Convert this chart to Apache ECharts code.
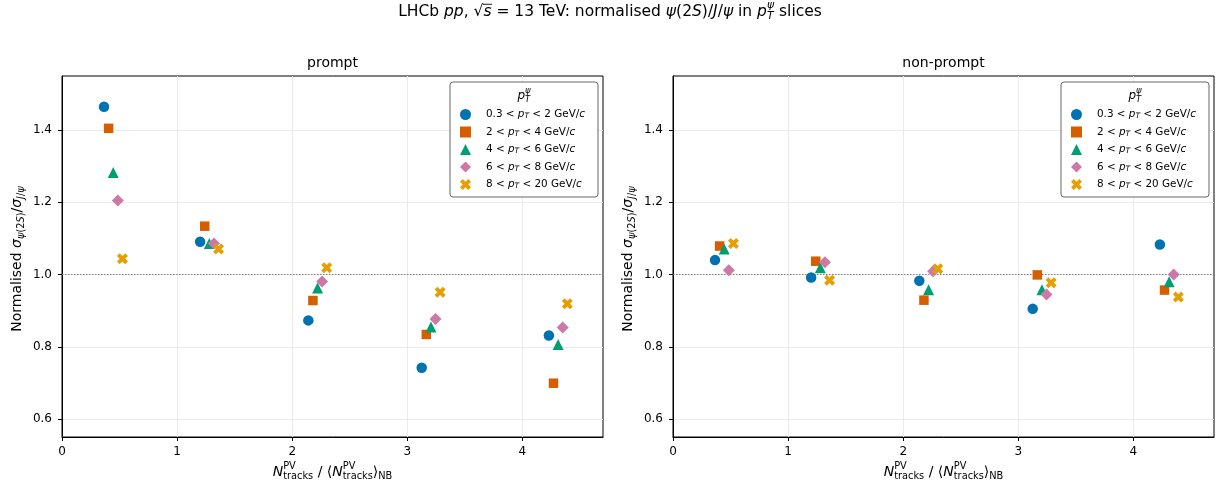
<!DOCTYPE html>
<html>
<head>
<meta charset="utf-8">
<script src="https://cdn.jsdelivr.net/npm/echarts@6/dist/echarts.min.js"></script>
<style>
  html, body { margin: 0; padding: 0; background: #fff; }
  #chart { width: 1221px; height: 489px; }
</style>
</head>
<body>
<div id="chart"></div>
<script>
// pT slice bounds (GeV/c), one per series
const sliceLow = [0.3, 2, 4, 6, 8];
const sliceHigh = [2, 4, 6, 8, 20];

// Multiplicity bin centres, N_tracks^PV / <N_tracks^PV>_NB
const multBins = [0.445, 1.28, 2.22, 3.205, 4.31];

// Normalised psi(2S)/J/psi ratio, prompt
const prompt1 = [1.465, 1.091, 0.873, 0.742, 0.831];
const prompt2 = [1.405, 1.134, 0.928, 0.834, 0.699];
const prompt3 = [1.283, 1.086, 0.963, 0.855, 0.806];
const prompt4 = [1.205, 1.086, 0.981, 0.877, 0.853];
const prompt5 = [1.044, 1.071, 1.019, 0.951, 0.919];

// Normalised psi(2S)/J/psi ratio, non-prompt
const nonPrompt1 = [1.040, 0.992, 0.983, 0.905, 1.083];
const nonPrompt2 = [1.079, 1.037, 0.929, 0.999, 0.957];
const nonPrompt3 = [1.071, 1.019, 0.958, 0.958, 0.980];
const nonPrompt4 = [1.012, 1.034, 1.009, 0.945, 1.000];
const nonPrompt5 = [1.086, 0.984, 1.016, 0.977, 0.938];

// Axis ticks
const xTicks = [0, 1, 2, 3, 4];
const yTicks = [0.6, 0.8, 1.0, 1.2, 1.4];

const panels = [
  { title: 'prompt', sets: [prompt1, prompt2, prompt3, prompt4, prompt5] },
  { title: 'non-prompt', sets: [nonPrompt1, nonPrompt2, nonPrompt3, nonPrompt4, nonPrompt5] }
];

const colors = ['#0072B2', '#D55E00', '#009E73', '#CC79A7', '#E69F00'];
const xCross = 'path://M2,-4L4,-2L2,0L4,2L2,4L0,2L-2,4L-4,2L-2,0L-4,-2L-2,-4L0,-2Z';
const symbols = ['circle', 'rect', 'triangle', 'diamond', xCross];
const symbolSizes = [10.5, 9.5, 11, 12, 11];
const dodge = 0.04;
const FONT = '"DejaVu Sans"';

const sliceNames = sliceLow.map((lo, i) => lo + ' < pT < ' + sliceHigh[i] + ' GeV/c');

const grids = [
  { left: 62, top: 76, width: 541, height: 361 },
  { left: 673, top: 76, width: 541, height: 361 }
];

// ---- small mathtext-like label builder ----
const mctx = document.createElement('canvas').getContext('2d');
function fontOf(size, italic) {
  return (italic ? 'italic ' : '') + size + 'px ' + FONT;
}
function mathText(items, base, opts) {
  let x = 0, lastStart = 0;
  const children = [];
  items.forEach(it => {
    const size = base * (it.s || 1);
    const f = fontOf(size, it.it);
    mctx.font = f;
    const w = mctx.measureText(it.t).width;
    const start = it.back ? lastStart : x;
    children.push({
      type: 'text', x: start, y: (it.dy || 0) * base, z: 100, zlevel: 1,
      style: { text: it.t, font: f, fill: '#000',
               textAlign: 'left', textVerticalAlign: 'middle',
               align: 'left', verticalAlign: 'middle' }
    });
    if (it.over) {
      children.push({
        type: 'line', z: 100, zlevel: 1,
        shape: { x1: start - 0.5, y1: -0.5 * base, x2: start + w + 0.5, y2: -0.5 * base },
        style: { stroke: '#000', lineWidth: 0.9 }
      });
    }
    lastStart = start;
    x = Math.max(x, start + w);
  });
  const shift = opts.align === 'center' ? -x / 2 : 0;
  children.forEach(c => {
    if (c.type === 'text') c.x += shift;
    else { c.shape.x1 += shift; c.shape.x2 += shift; }
  });
  return { type: 'group', x: opts.x, y: opts.y, rotation: opts.rotation || 0,
           silent: true, z: 100, zlevel: 1, children };
}

const SUB = 0.3, SUP = -0.42, SS = 0.7;

const titleItems = [
  { t: 'LHCb ' }, { t: 'pp', it: true }, { t: ', ' }, { t: '√' }, { t: 's', it: true, over: true },
  { t: ' = 13 TeV: normalised ' }, { t: 'ψ', it: true }, { t: '(2' }, { t: 'S', it: true },
  { t: ')/' }, { t: 'J', it: true }, { t: '/' }, { t: 'ψ', it: true }, { t: ' in ' },
  { t: 'p', it: true }, { t: 'ψ', it: true, s: SS, dy: SUP }, { t: 'T', it: true, s: SS, dy: SUB, back: true },
  { t: ' slices' }
];
const yLabelItems = [
  { t: 'Normalised ' }, { t: 'σ', it: true },
  { t: 'ψ', it: true, s: SS, dy: SUB }, { t: '(2', s: SS, dy: SUB }, { t: 'S', it: true, s: SS, dy: SUB }, { t: ')', s: SS, dy: SUB },
  { t: '/' }, { t: 'σ', it: true },
  { t: 'J', it: true, s: SS, dy: SUB }, { t: '/', s: SS, dy: SUB }, { t: 'ψ', it: true, s: SS, dy: SUB }
];
const xLabelItems = [
  { t: 'N', it: true }, { t: 'PV', s: SS, dy: SUP }, { t: 'tracks', s: SS, dy: SUB, back: true },
  { t: ' / ⟨' }, { t: 'N', it: true }, { t: 'PV', s: SS, dy: SUP }, { t: 'tracks', s: SS, dy: SUB, back: true },
  { t: '⟩' }, { t: 'NB', s: SS, dy: SUB }
];
const legendTitleItems = [
  { t: 'p', it: true }, { t: 'ψ', it: true, s: SS, dy: SUP }, { t: 'T', it: true, s: SS, dy: SUB, back: true }
];

const graphics = [mathText(titleItems, 15.5, { x: 610, y: 12, align: 'center' })];
grids.forEach((g, k) => {
  const cx = g.left + g.width / 2;
  graphics.push({
    type: 'text', x: cx, y: 63, silent: true,
    style: { text: panels[k].title, font: fontOf(14, false), fill: '#000',
             textAlign: 'center', textVerticalAlign: 'middle', align: 'center', verticalAlign: 'middle' }
  });
  graphics.push(mathText(xLabelItems, 14, { x: cx, y: 472, align: 'center' }));
  graphics.push(mathText(yLabelItems, 14, { x: g.left - 45, y: 259, align: 'center', rotation: Math.PI / 2 }));
  graphics.push(mathText(legendTitleItems, 12, { x: g.left + 462, y: 96, align: 'center' }));
});

const series = [];
panels.forEach((p, k) => {
  p.sets.forEach((vals, i) => {
    const s = {
      name: sliceNames[i],
      type: 'scatter',
      xAxisIndex: k, yAxisIndex: k,
      symbol: symbols[i],
      symbolSize: symbolSizes[i],
      itemStyle: { color: colors[i], opacity: 1 },
      data: vals.map((v, j) => [multBins[j] + (i - 2) * dodge, v]),
      z: 3 + i
    };
    if (i === 0) {
      s.markLine = {
        silent: true, symbol: ['none', 'none'], label: { show: false },
        lineStyle: { color: '#808080', width: 1, type: [1.5, 1.5] },
        data: [{ yAxis: 1 }], z: 2
      };
    }
    series.push(s);
  });
});

const axisText = { fontSize: 12, color: '#000', fontFamily: FONT };
const LFS = 10.4;

const option = {
  animation: false,
  backgroundColor: '#fff',
  grid: grids.map(g => Object.assign({ show: true, borderColor: '#000', borderWidth: 1, backgroundColor: 'transparent' }, g)),
  xAxis: grids.map((g, k) => ({
    type: 'value', gridIndex: k, min: 0, max: 4.7,
    axisLine: { show: true, onZero: false, lineStyle: { color: '#000', width: 1 } },
    axisTick: { show: true, length: 4, customValues: xTicks, lineStyle: { color: '#000' } },
    axisLabel: Object.assign({ margin: 9, customValues: xTicks, formatter: v => String(v) }, axisText),
    splitLine: { show: true, lineStyle: { color: '#ebebeb', width: 1 } }
  })),
  yAxis: grids.map((g, k) => ({
    type: 'value', gridIndex: k, min: 0.55, max: 1.55,
    axisLine: { show: true, onZero: false, lineStyle: { color: '#000', width: 1 } },
    axisTick: { show: true, length: 4, customValues: yTicks, lineStyle: { color: '#000' } },
    axisLabel: Object.assign({ margin: 10, customValues: yTicks, formatter: v => v.toFixed(1) }, axisText),
    splitLine: { show: true, lineStyle: { color: '#ebebeb', width: 1 } }
  })),
  legend: grids.map((g, k) => ({
    data: sliceNames,
    orient: 'vertical',
    left: g.left + 388, top: 82,
    padding: [26, 13, 6, 10],
    itemWidth: 11, itemHeight: 11, itemGap: 4.5,
    symbolKeepAspect: true,
    backgroundColor: 'rgba(255,255,255,0.85)',
    borderColor: '#666', borderWidth: 1, borderRadius: 3,
    selectedMode: false,
    formatter: name => {
      const i = sliceNames.indexOf(name);
      return sliceLow[i] + ' < {i|p}{sub|T} < ' + sliceHigh[i] + ' GeV/{i|c}';
    },
    textStyle: {
      fontSize: LFS, color: '#000', fontFamily: FONT, padding: [0, 0, 0, 10], lineHeight: 13,
      rich: {
        i: { fontStyle: 'italic', fontSize: LFS, fontFamily: FONT, color: '#000', lineHeight: 13 },
        sub: { fontStyle: 'italic', fontSize: 7.5, fontFamily: FONT, color: '#000', lineHeight: 13, padding: [4, 0, 0, 0] }
      }
    }
  })),
  graphic: graphics,
  series
};

const chart = echarts.init(document.getElementById('chart'), null, { renderer: 'canvas' });
chart.setOption(option);
</script>
</body>
</html>
